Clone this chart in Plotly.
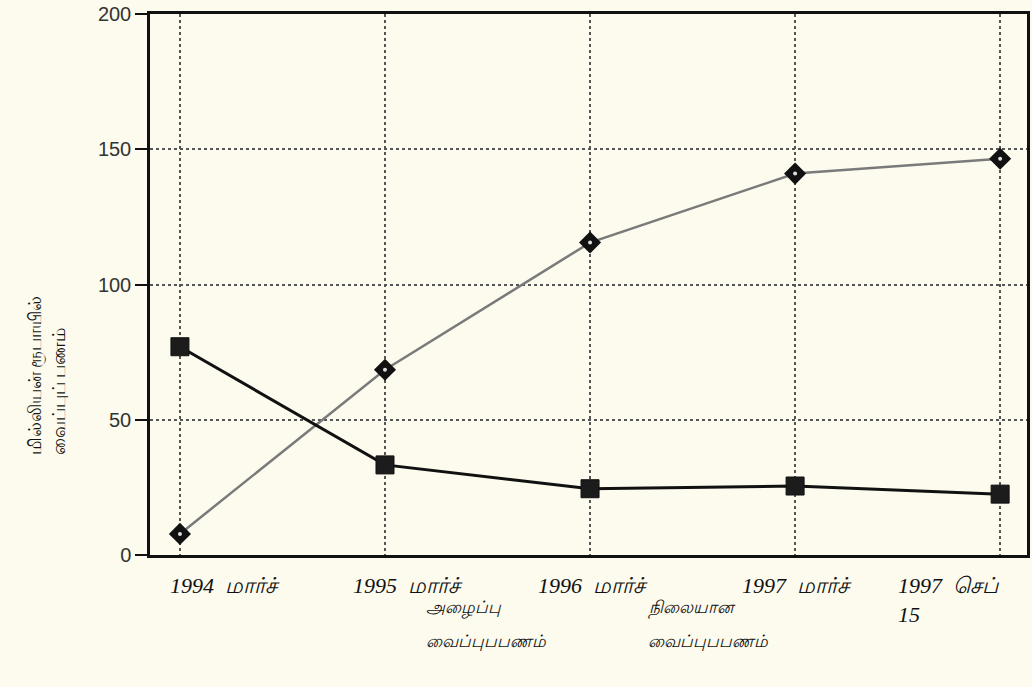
import plotly.graph_objects as go

categories = ["1994\u00a0\u00a0மார்ச்", "1995\u00a0\u00a0மார்ச்", "1996\u00a0\u00a0மார்ச்",
              "1997\u00a0\u00a0மார்ச்", "1997\u00a0\u00a0செப்<br>15"]
fixed_deposits = [77, 33.3, 24.5, 25.5, 22.5]      # squares
call_deposits = [7.8, 68.5, 115.5, 141, 146.5]     # diamonds
y_ticks = [0, 50, 100, 150, 200]
y_title_lines = ["மில்லியன் ரூபாயில்", "வைப்புப் பணம்"]
legend_call = ["அழைப்பு", "வைப்புபபணம்"]
legend_fixed = ["நிலையான", "வைப்புபபணம்"]

xs = list(range(len(categories)))
W, H = 1032, 687
L, R, T, B = 150, 2, 14, 132
pw, ph = W - L - R, H - T - B
YMAX = 200
TICKLEN = 15

def px(x):
    return (x - L) / pw

def py(y):
    return (H - B - y) / ph

bg = "#fcfbee"
fig = go.Figure()

fig.add_trace(go.Scatter(
    x=xs, y=call_deposits, mode="lines+markers",
    line=dict(color="#7a7a7a", width=2.5),
    marker=dict(symbol="diamond", size=17, color="#111111"),
    showlegend=False, hoverinfo="skip"))
fig.add_trace(go.Scatter(
    x=xs, y=call_deposits, mode="markers",
    marker=dict(symbol="circle", size=4, color="#dddddd"),
    showlegend=False, hoverinfo="skip"))
fig.add_trace(go.Scatter(
    x=xs, y=fixed_deposits, mode="lines+markers",
    line=dict(color="#111111", width=3),
    marker=dict(symbol="square", size=18, color="#1c1c1c",
                line=dict(color="#111111", width=1)),
    showlegend=False, hoverinfo="skip"))

# x-axis tick marks below the axis line (vertical line markers, not clipped)
tick_y = -(TICKLEN / 2) / ph * YMAX
fig.add_trace(go.Scatter(
    x=xs, y=[tick_y] * len(xs), mode="markers", cliponaxis=False,
    marker=dict(symbol="line-ns", size=TICKLEN, line=dict(color="#111111", width=2)),
    showlegend=False, hoverinfo="skip"))

tick_font = dict(family="Liberation Serif, serif", size=22, color="#111111", style="italic")
xshifts = [45, 23, 3, 2, -51]
for i, lab in enumerate(categories):
    multi = "<br>" in lab
    fig.add_annotation(x=i, y=py(585), xref="x", yref="paper", text=lab,
                       showarrow=False, xshift=xshifts[i], font=tick_font,
                       align="left", yanchor="top" if multi else "middle",
                       yshift=14 if multi else 0)

leg_font = dict(family="Noto Sans, sans-serif", size=17, color="#111111", style="italic")
for lines, x0 in ((legend_call, 425), (legend_fixed, 648)):
    for j, t in enumerate(lines):
        fig.add_annotation(x=px(x0), y=py(621 + 33 * j), xref="paper", yref="paper",
                           text=t, showarrow=False, xanchor="left", font=leg_font)

fig.add_annotation(x=px(45), y=py(457), xref="paper", yref="paper",
                   text="<br>".join(y_title_lines), textangle=-90, showarrow=False,
                   align="left", xanchor="center", yanchor="bottom",
                   font=dict(family="Noto Sans, sans-serif", size=18, color="#111111"))

fig.update_xaxes(range=[-0.146, 4.131], tickvals=xs, showticklabels=False,
                 ticks="", showline=True, linecolor="#111111", linewidth=2.5, mirror=True,
                 showgrid=True, gridcolor="#555555", gridwidth=1.5, griddash="dot",
                 zeroline=False)
fig.update_yaxes(range=[0, YMAX], tickvals=y_ticks, ticks="outside", ticklen=12,
                 tickwidth=2, tickcolor="#111111",
                 tickfont=dict(family="Liberation Sans, sans-serif", size=20, color="#333333"),
                 showline=True, linecolor="#111111", linewidth=2.5, mirror=True,
                 showgrid=True, gridcolor="#555555", gridwidth=1.5, griddash="dot",
                 zeroline=False)

fig.update_layout(width=W, height=H, margin=dict(l=L, r=R, t=T, b=B),
                  paper_bgcolor=bg, plot_bgcolor=bg)

fig.write_html("out.html", config={"displayModeBar": False},
               post_script="document.body.style.margin='0';document.body.style.background='%s';" % bg)
